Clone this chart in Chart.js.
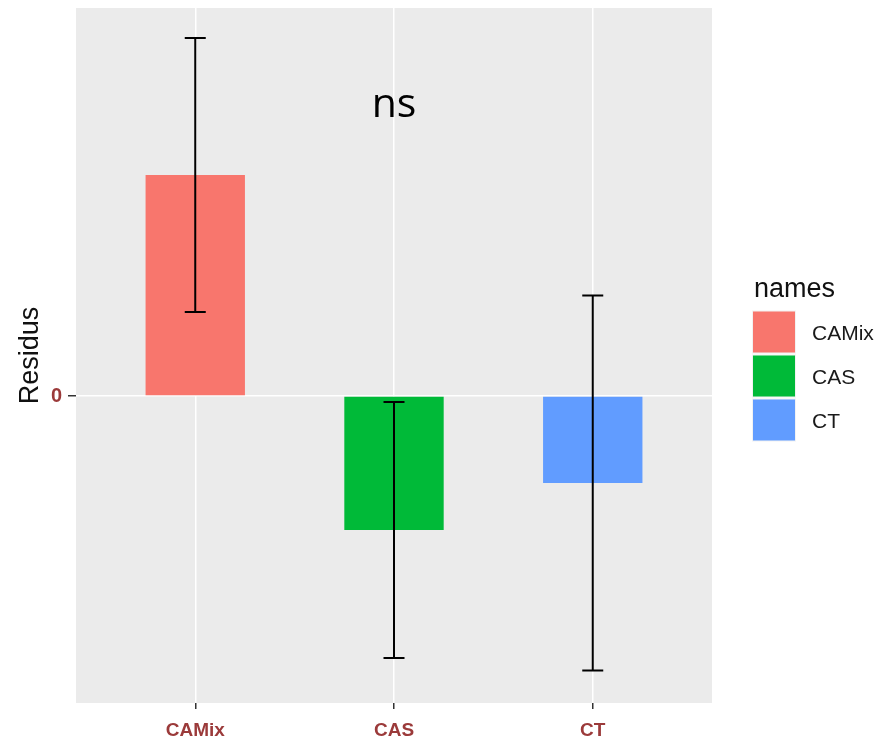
<!DOCTYPE html>
<html lang="en">
<head>
    <meta charset="UTF-8">
    <title>Residus</title>
    <script src="https://cdn.jsdelivr.net/npm/chart.js"></script>
    <style>
        body { margin: 0; background: #fff; }
        #wrap { width: 879px; height: 739px; }
    </style>
</head>
<body>
    <div id="wrap"><canvas id="chart" width="879" height="739"></canvas></div>

    <script>
        // Group names, positions on the x axis and colours
        const categories = ['CAMix', 'CAS', 'CT'];
        const xPositions = [1, 2, 3];
        const colors = ['#F8766D', '#00BA38', '#619CFF'];

        // Mean residual per group and the half-width of its error bar
        const means = [2.21, -1.34, -0.87];
        const errors = [1.37, 1.28, 1.875];

        // Y axis shows a single break at zero
        const yTicks = [0];
        const yTickLabels = ['0'];

        // Significance label placed over the middle group
        const noteText = 'ns';
        const noteX = 2;
        const noteY = 2.91;

        const labelColor = '#9B3A3A';

        // Grey ggplot-style panel behind the plot area
        const panelBg = {
            id: 'panelBg',
            beforeDraw(chart) {
                const { ctx, chartArea: a } = chart;
                ctx.save();
                ctx.fillStyle = '#EBEBEB';
                ctx.fillRect(a.left, a.top, a.right - a.left, a.bottom - a.top);
                ctx.restore();
            }
        };

        // Error bars with caps, drawn on top of the bars
        const errorBars = {
            id: 'errorBars',
            afterDatasetsDraw(chart) {
                const { ctx, scales: { x, y } } = chart;
                ctx.save();
                ctx.strokeStyle = '#000';
                ctx.lineWidth = 2;
                means.forEach((m, i) => {
                    const px = x.getPixelForValue(xPositions[i]);
                    const top = y.getPixelForValue(m + errors[i]);
                    const bot = y.getPixelForValue(m - errors[i]);
                    const half = 10.5;
                    ctx.beginPath();
                    ctx.moveTo(px, top); ctx.lineTo(px, bot);
                    ctx.moveTo(px - half, top); ctx.lineTo(px + half, top);
                    ctx.moveTo(px - half, bot); ctx.lineTo(px + half, bot);
                    ctx.stroke();
                });
                ctx.restore();
            }
        };

        // "ns" annotation
        const note = {
            id: 'note',
            afterDraw(chart) {
                const { ctx, scales: { x, y } } = chart;
                ctx.save();
                ctx.fillStyle = '#000';
                ctx.font = '41px "Open Sans", sans-serif';
                ctx.textAlign = 'center';
                ctx.textBaseline = 'middle';
                ctx.fillText(noteText, x.getPixelForValue(noteX), y.getPixelForValue(noteY));
                ctx.restore();
            }
        };

        // Legend on the right, vertically centred on the panel
        const sideLegend = {
            id: 'sideLegend',
            afterDraw(chart) {
                const { ctx, chartArea: a } = chart;
                const keyW = 42, keyH = 41, step = 44;
                const left = a.right + 41;
                const mid = (a.top + a.bottom) / 2;
                const keysTop = mid - step;
                ctx.save();
                ctx.textBaseline = 'middle';
                ctx.textAlign = 'left';
                ctx.fillStyle = '#111';
                ctx.font = '27px "Liberation Sans", Arial, sans-serif';
                ctx.fillText('names', left + 1, keysTop - 22);
                categories.forEach((c, i) => {
                    const top = keysTop + i * step;
                    ctx.fillStyle = '#F2F2F2';
                    ctx.fillRect(left - 1, top - 1, keyW + 2, keyH + 2);
                    ctx.fillStyle = colors[i];
                    ctx.fillRect(left, top, keyW, keyH);
                    ctx.fillStyle = '#1A1A1A';
                    ctx.font = '21px "Liberation Sans", Arial, sans-serif';
                    ctx.fillText(c, left + 59, top + keyH / 2 + 2);
                });
                ctx.restore();
            }
        };

        new Chart(document.getElementById('chart'), {
            type: 'bar',
            data: {
                datasets: [{
                    label: 'names',
                    data: categories.map((c, i) => ({ x: xPositions[i], y: means[i] })),
                    backgroundColor: colors,
                    borderWidth: 0,
                    barPercentage: 0.5,
                    categoryPercentage: 1
                }]
            },
            options: {
                responsive: false,
                devicePixelRatio: 1,
                animation: false,
                layout: { padding: { top: 8, right: 167, left: 0, bottom: 0 } },
                plugins: {
                    legend: { display: false },
                    tooltip: { enabled: false }
                },
                scales: {
                    x: {
                        type: 'linear',
                        min: 0.4,
                        max: 3.6,
                        offset: false,
                        afterBuildTicks: s => { s.ticks = xPositions.map(v => ({ value: v })); },
                        afterFit: s => { s.height = 36; s.paddingLeft = 0; s.paddingRight = 0; },
                        border: { display: false },
                        grid: {
                            offset: false,
                            color: '#FFFFFF',
                            lineWidth: 1.5,
                            tickLength: 6,
                            tickColor: '#333',
                            tickWidth: 1.5
                        },
                        ticks: {
                            padding: 10,
                            color: labelColor,
                            font: { family: '"Liberation Sans", Arial, sans-serif', size: 19, weight: 'bold' },
                            callback: (v, i) => categories[i]
                        }
                    },
                    y: {
                        min: -3.07,
                        max: 3.88,
                        afterBuildTicks: s => { s.ticks = yTicks.map(v => ({ value: v })); },
                        afterFit: s => { s.width = 76; s.paddingTop = 0; s.paddingBottom = 0; },
                        border: { display: false },
                        grid: {
                            color: '#FFFFFF',
                            lineWidth: 1.5,
                            tickLength: 8,
                            tickColor: '#333',
                            tickWidth: 1.5
                        },
                        ticks: {
                            padding: 6,
                            color: labelColor,
                            font: { family: '"Liberation Sans", Arial, sans-serif', size: 20, weight: 'bold' },
                            callback: (v, i) => yTickLabels[i]
                        },
                        title: {
                            display: true,
                            text: 'Residus',
                            color: '#111',
                            padding: { top: 14, bottom: 0 },
                            font: { family: '"Liberation Sans", Arial, sans-serif', size: 27 }
                        }
                    }
                }
            },
            plugins: [panelBg, errorBars, note, sideLegend]
        });
    </script>
</body>
</html>
